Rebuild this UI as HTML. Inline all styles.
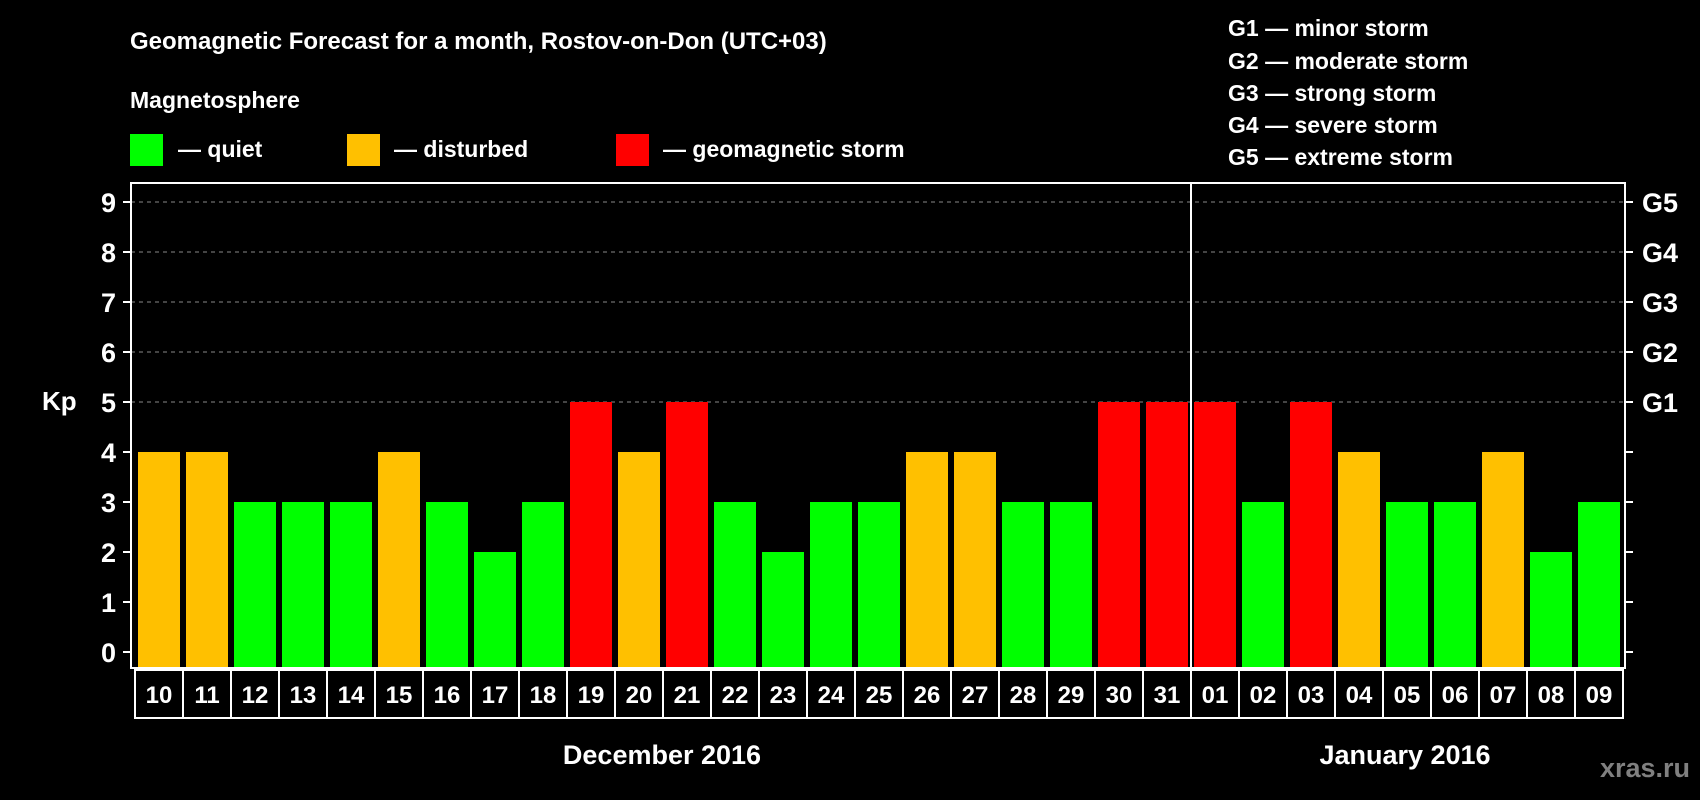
<!DOCTYPE html>
<html><head><meta charset="utf-8"><style>
body{margin:0;background:#000;width:1700px;height:800px;overflow:hidden}
svg{display:block;font-family:"Liberation Sans",Arial,sans-serif;font-weight:bold}
</style></head><body>
<svg id="c" width="1700" height="800">
<text x="130" y="49" fill="#fff" font-size="24">Geomagnetic Forecast for a month, Rostov-on-Don (UTC+03)</text>
<text x="130" y="108" fill="#fff" font-size="23">Magnetosphere</text>
<rect x="130" y="134" width="33" height="32" fill="#00ff00"/>
<text x="178" y="157" fill="#fff" font-size="23">— quiet</text>
<rect x="347" y="134" width="33" height="32" fill="#ffc000"/>
<text x="394" y="157" fill="#fff" font-size="23">— disturbed</text>
<rect x="616" y="134" width="33" height="32" fill="#ff0000"/>
<text x="663" y="157" fill="#fff" font-size="23">— geomagnetic storm</text>
<g fill="#fff" font-size="23">
<text x="1228" y="36">G1 — minor storm</text>
<text x="1228" y="69">G2 — moderate storm</text>
<text x="1228" y="101">G3 — strong storm</text>
<text x="1228" y="133">G4 — severe storm</text>
<text x="1228" y="165">G5 — extreme storm</text>
</g>
<text x="42" y="410" fill="#fff" font-size="26">Kp</text>
<g id="grid"></g><g id="bars"></g><g id="axes"></g>
<text x="662" y="764" fill="#fff" font-size="27" text-anchor="middle">December 2016</text>
<text x="1405" y="764" fill="#fff" font-size="27" text-anchor="middle">January 2016</text>
<text x="1690" y="777" fill="#808080" font-size="27" text-anchor="end">xras.ru</text>
</svg>
<script>
const days=["10","11","12","13","14","15","16","17","18","19","20","21","22","23","24","25","26","27","28","29","30","31","01","02","03","04","05","06","07","08","09"];
const kp=[4,4,3,3,3,4,3,2,3,5,4,5,3,2,3,3,4,4,3,3,5,5,5,3,5,4,3,3,4,2,3];
const yTicks=[0,1,2,3,4,5,6,7,8,9];
const gLabels=["G1","G2","G3","G4","G5"];
const NS="http://www.w3.org/2000/svg";
const L=131,R=1625,T=183,B=668,X0=135,P=48;
const y=v=>652-50*v, x=i=>X0+P*i;
function mk(t,a,p){const e=document.createElementNS(NS,t);for(const k in a)e.setAttribute(k,a[k]);document.getElementById(p).appendChild(e);return e;}
yTicks.forEach(v=>{
 if(v>=5){const g=mk('line',{x1:L,x2:R,y1:y(v),y2:y(v),stroke:'#888','stroke-dasharray':'4 4','stroke-width':1},'grid');
 
 }
 mk('line',{x1:L-8,x2:L,y1:y(v),y2:y(v),stroke:'#fff','stroke-width':2},'axes');
 mk('line',{x1:R,x2:R+8,y1:y(v),y2:y(v),stroke:'#fff','stroke-width':2},'axes');
 const t=mk('text',{x:116,y:y(v)+10,fill:'#fff','font-size':27,'text-anchor':'end'},'axes');t.textContent=v;
 
 
});
gLabels.forEach((g,i)=>{const t=mk('text',{x:1642,y:y(5+i)+10,fill:'#fff','font-size':27},'axes');t.textContent=g;
 
 });
kp.forEach((v,i)=>{
 const c=v>=5?'#ff0000':v>=4?'#ffc000':'#00ff00';
 const r=mk('rect',{x:x(i)+3,y:y(v),width:42,height:B-y(v),fill:c},'bars');
 
 
 const b=mk('rect',{x:x(i),y:B+2,width:P,height:48,fill:'none',stroke:'#fff','stroke-width':2},'axes');
 
 
 const t=mk('text',{x:x(i)+P/2,y:B+35,fill:'#fff','font-size':24,'text-anchor':'middle'},'axes');t.textContent=days[i];
 
 
});
const f=mk('rect',{x:L,y:T,width:R-L,height:B-T,fill:'none',stroke:'#fff','stroke-width':2},'axes');


const sep=mk('line',{x1:x(22),x2:x(22),y1:T,y2:B,stroke:'#fff','stroke-width':2},'axes');


</script>
</body></html>
